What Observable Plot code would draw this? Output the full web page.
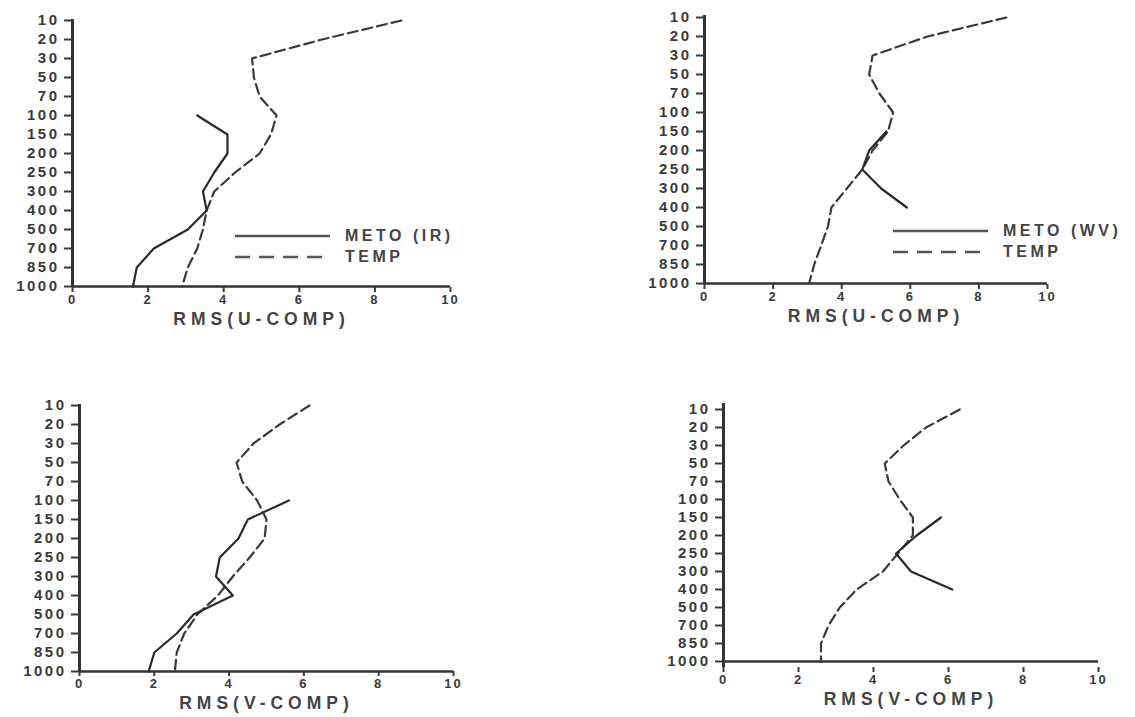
<!DOCTYPE html>
<html>
<head>
<meta charset="utf-8">
<script src="https://cdn.jsdelivr.net/npm/d3@7"></script>
<script src="https://cdn.jsdelivr.net/npm/@observablehq/plot@0.6"></script>
<style>
  html, body { margin: 0; padding: 0; background: #fff; }
  #wrap { position: relative; width: 1135px; height: 717px; overflow: hidden; font-family: "Liberation Sans", Arial, sans-serif; }
  .panel { position: absolute; }
  .panel svg g[aria-label="y-axis tick label"] text { letter-spacing: 2.5px; }
  .panel svg g[aria-label="x-axis tick label"] text { letter-spacing: 2px; }
  .panel svg g[aria-label="text"] text { letter-spacing: 5px; }
  .legend { position: absolute; }
  .legend .row { display: flex; align-items: center; height: 21px; }
  .legend .row span { font-size: 16px; font-weight: bold; letter-spacing: 3.5px; color: #444; margin-left: 15px; }
</style>
</head>
<body>
<div id="wrap"></div>
<script>
// Pressure levels (hPa), top to bottom
const levels = ["10","20","30","50","70","100","150","200","250","300","400","500","700","850","1000"];
const xTicks = [0, 2, 4, 6, 8, 10];

// RMS(U-COMP), IR panel
const uIrTemp = [8.7, 6.6, 4.75, 4.8, 4.95, 5.4, 5.25, 4.95, 4.3, 3.75, 3.55, 3.45, 3.3, 3.05, 2.9];
const uIrMeto = [null, null, null, null, null, 3.3, 4.1, 4.1, 3.75, 3.45, 3.55, 3.05, 2.15, 1.7, 1.6];
// RMS(U-COMP), WV panel
const uWvTemp = [8.8, 6.5, 4.9, 4.8, 5.1, 5.5, 5.35, 4.9, 4.6, 4.15, 3.7, 3.6, 3.4, 3.2, 3.05];
const uWvMeto = [null, null, null, null, null, null, 5.3, 4.8, 4.6, 5.15, 5.9, null, null, null, null];
// RMS(V-COMP), IR panel
const vIrTemp = [6.15, 5.35, 4.65, 4.2, 4.35, 4.75, 5.0, 4.95, 4.55, 4.1, 3.7, 3.15, 2.8, 2.6, 2.55];
const vIrMeto = [null, null, null, null, null, 5.6, 4.5, 4.25, 3.75, 3.65, 4.1, 3.05, 2.6, 2.0, 1.85];
// RMS(V-COMP), WV panel
const vWvTemp = [6.3, 5.4, 4.8, 4.3, 4.4, 4.7, 5.05, 5.05, 4.65, 4.25, 3.55, 3.1, 2.8, 2.6, 2.6];
const vWvMeto = [null, null, null, null, null, null, 5.8, 5.15, 4.6, 5.0, 6.1, null, null, null, null];

const xLabels = ["RMS(U-COMP)", "RMS(U-COMP)", "RMS(V-COMP)", "RMS(V-COMP)"];
const metoNames = ["METO (IR)", "METO (WV)"];
const tempName = "TEMP";

const ink = "#3a3a3a";
const wrap = document.getElementById("wrap");

function rows(vals) {
  return levels.map((p, i) => ({p, v: vals[i]})).filter(d => d.v != null);
}

function panel(o) {
  const chart = Plot.plot({
    width: o.width, height: o.height,
    marginLeft: o.ml, marginTop: o.mt, marginRight: o.mr, marginBottom: o.mb,
    style: {fontFamily: "'Liberation Sans', Arial, sans-serif", background: "transparent", color: ink},
    x: {domain: [0, 10]},
    y: {type: "point", domain: levels, padding: 0},
    marks: [
      Plot.axisY({tickSize: 8, tickPadding: 5, fontSize: 15, fontWeight: "bold", fill: ink, stroke: ink, strokeWidth: 2, label: null}),
      Plot.axisX({ticks: xTicks, tickSize: 5, tickPadding: 2, fontSize: 13, fontWeight: "bold", fill: ink, stroke: ink, strokeWidth: 2, label: null}),
      Plot.ruleX([0], {stroke: "#333", strokeWidth: 3}),
      Plot.ruleY([levels[levels.length - 1]], {stroke: "#333", strokeWidth: 2.5}),
      Plot.line(rows(o.temp), {x: "v", y: "p", stroke: ink, strokeWidth: 2.2, strokeDasharray: "10,5"}),
      Plot.line(rows(o.meto), {x: "v", y: "p", stroke: "#2a2a2a", strokeWidth: 2.2}),
      Plot.text([o.label], {text: d => d, frameAnchor: "bottom", dy: 37, fontSize: 17.5, fontWeight: "bold", fill: "#444"})
    ]
  });
  const div = document.createElement("div");
  div.className = "panel";
  div.style.left = o.left + "px";
  div.style.top = o.top + "px";
  div.appendChild(chart);
  wrap.appendChild(div);
}

function legend(left, top, metoName) {
  const div = document.createElement("div");
  div.className = "legend";
  div.style.left = left + "px";
  div.style.top = top + "px";
  const line = (dash) => `<svg width="95" height="6"><line x1="0" x2="95" y1="3" y2="3" stroke="#555" stroke-width="2.5" ${dash ? 'stroke-dasharray="15,9"' : ''}/></svg>`;
  div.innerHTML = `<div class="row">${line(false)}<span>${metoName}</span></div><div class="row">${line(true)}<span>${tempName}</span></div>`;
  wrap.appendChild(div);
}

panel({temp: uIrTemp, meto: uIrMeto, label: xLabels[0], left: 0, top: 0, width: 470, height: 335, ml: 72, mt: 19, mr: 20, mb: 48});
panel({temp: uWvTemp, meto: uWvMeto, label: xLabels[1], left: 620, top: 0, width: 515, height: 332, ml: 84, mt: 15, mr: 88, mb: 48});
panel({temp: vIrTemp, meto: vIrMeto, label: xLabels[2], left: 0, top: 380, width: 470, height: 339, ml: 79, mt: 24, mr: 17, mb: 48});
panel({temp: vWvTemp, meto: vWvMeto, label: xLabels[3], left: 640, top: 380, width: 495, height: 335, ml: 83, mt: 23, mr: 37, mb: 48});

legend(235, 225, metoNames[0]);
legend(893, 220, metoNames[1]);
</script>
</body>
</html>
